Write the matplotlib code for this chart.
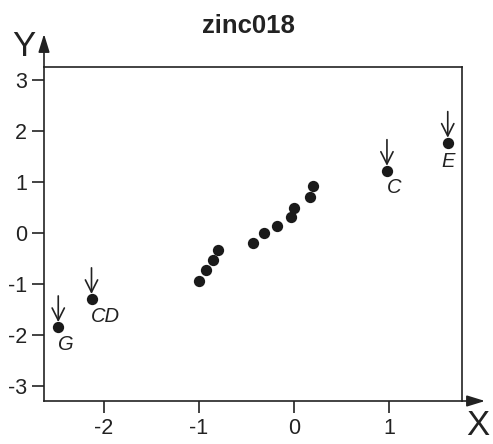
import matplotlib
matplotlib.use("Agg")
import matplotlib.pyplot as plt

plt.rcParams['font.family'] = ['Liberation Sans', 'DejaVu Sans']

title = "zinc018"
x_vals = [-2.48, -2.13, -1.00, -0.93, -0.85, -0.80, -0.43, -0.31, -0.18, -0.03, 0.00, 0.17, 0.20, 0.98, 1.62]
y_vals = [-1.84, -1.29, -0.95, -0.73, -0.52, -0.33, -0.19, -0.01, 0.14, 0.32, 0.49, 0.71, 0.92, 1.22, 1.77]
label_names = ["G", "CD", "C", "E"]
label_x = [-2.48, -2.13, 0.98, 1.62]
label_y = [-1.84, -1.29, 1.22, 1.77]
x_ticks = [-2, -1, 0, 1]
y_ticks = [-3, -2, -1, 0, 1, 2, 3]

W, H = 493, 444
fig = plt.figure(figsize=(W / 100, H / 100), dpi=100)
L, R, T, B = 44, 462, 67, 401
ax = fig.add_axes([L / W, 1 - B / H, (R - L) / W, (B - T) / H])

ax.scatter(x_vals, y_vals, s=66, color='#1a1a1a', zorder=3, linewidths=0)
ax.set_xlim(-2.63, 1.77)
ax.set_ylim(-3.29, 3.25)
ax.set_xticks(x_ticks)
ax.set_yticks(y_ticks)
ax.set_xticklabels([str(t) for t in x_ticks])
ax.set_yticklabels([str(t) for t in y_ticks])
ax.tick_params(direction='out', length=8.5, width=1.2, labelsize=15.5, pad=3.5, color='#222222', labelcolor='#222222')
for s in ax.spines.values():
    s.set_linewidth(1.2)
    s.set_color('#222222')

# labelled points: arrows and italic names
offsets = {"G": (0, -18, 'left'), "CD": (-1, -18, 'left'), "C": (0, -17, 'left'), "E": (0, -19, 'center')}
for name, lx, ly in zip(label_names, label_x, label_y):
    ax.annotate('', xy=(lx, ly), xytext=(0, 31), textcoords='offset pixels',
                arrowprops=dict(arrowstyle='->', color='#222222', lw=1.2,
                                mutation_scale=22, shrinkA=0, shrinkB=3.5))
    dx, dy, ha = offsets[name]
    ax.annotate(name, xy=(lx, ly), xytext=(dx, dy), textcoords='offset pixels',
                ha=ha, va='center', fontsize=14.5, fontstyle='italic', color='#222222')

# axis arrows
ax.annotate('', xy=(0, (B - 34) / (B - T)), xytext=(0, 1), xycoords='axes fraction',
            arrowprops=dict(arrowstyle='-|>,head_length=0.55,head_width=0.17', color='#222222',
                            lw=1.2, mutation_scale=20, shrinkA=0, shrinkB=0),
            annotation_clip=False)
ax.annotate('', xy=((485 - L) / (R - L), 0), xytext=(1, 0), xycoords='axes fraction',
            arrowprops=dict(arrowstyle='-|>,head_length=0.55,head_width=0.17', color='#222222',
                            lw=1.2, mutation_scale=20, shrinkA=0, shrinkB=0),
            annotation_clip=False)

fig.text(24 / W, 1 - 46.5 / H, 'Y', fontsize=25, ha='center', va='center', color='#222222')
fig.text(477.5 / W, 1 - 425 / H, 'X', fontsize=25, ha='center', va='center', color='#222222')
fig.text(248 / W, 1 - 26 / H, title, fontsize=18.5, fontweight='bold', ha='center', va='center', color='#222222')

fig.savefig('out.png', dpi=100)
